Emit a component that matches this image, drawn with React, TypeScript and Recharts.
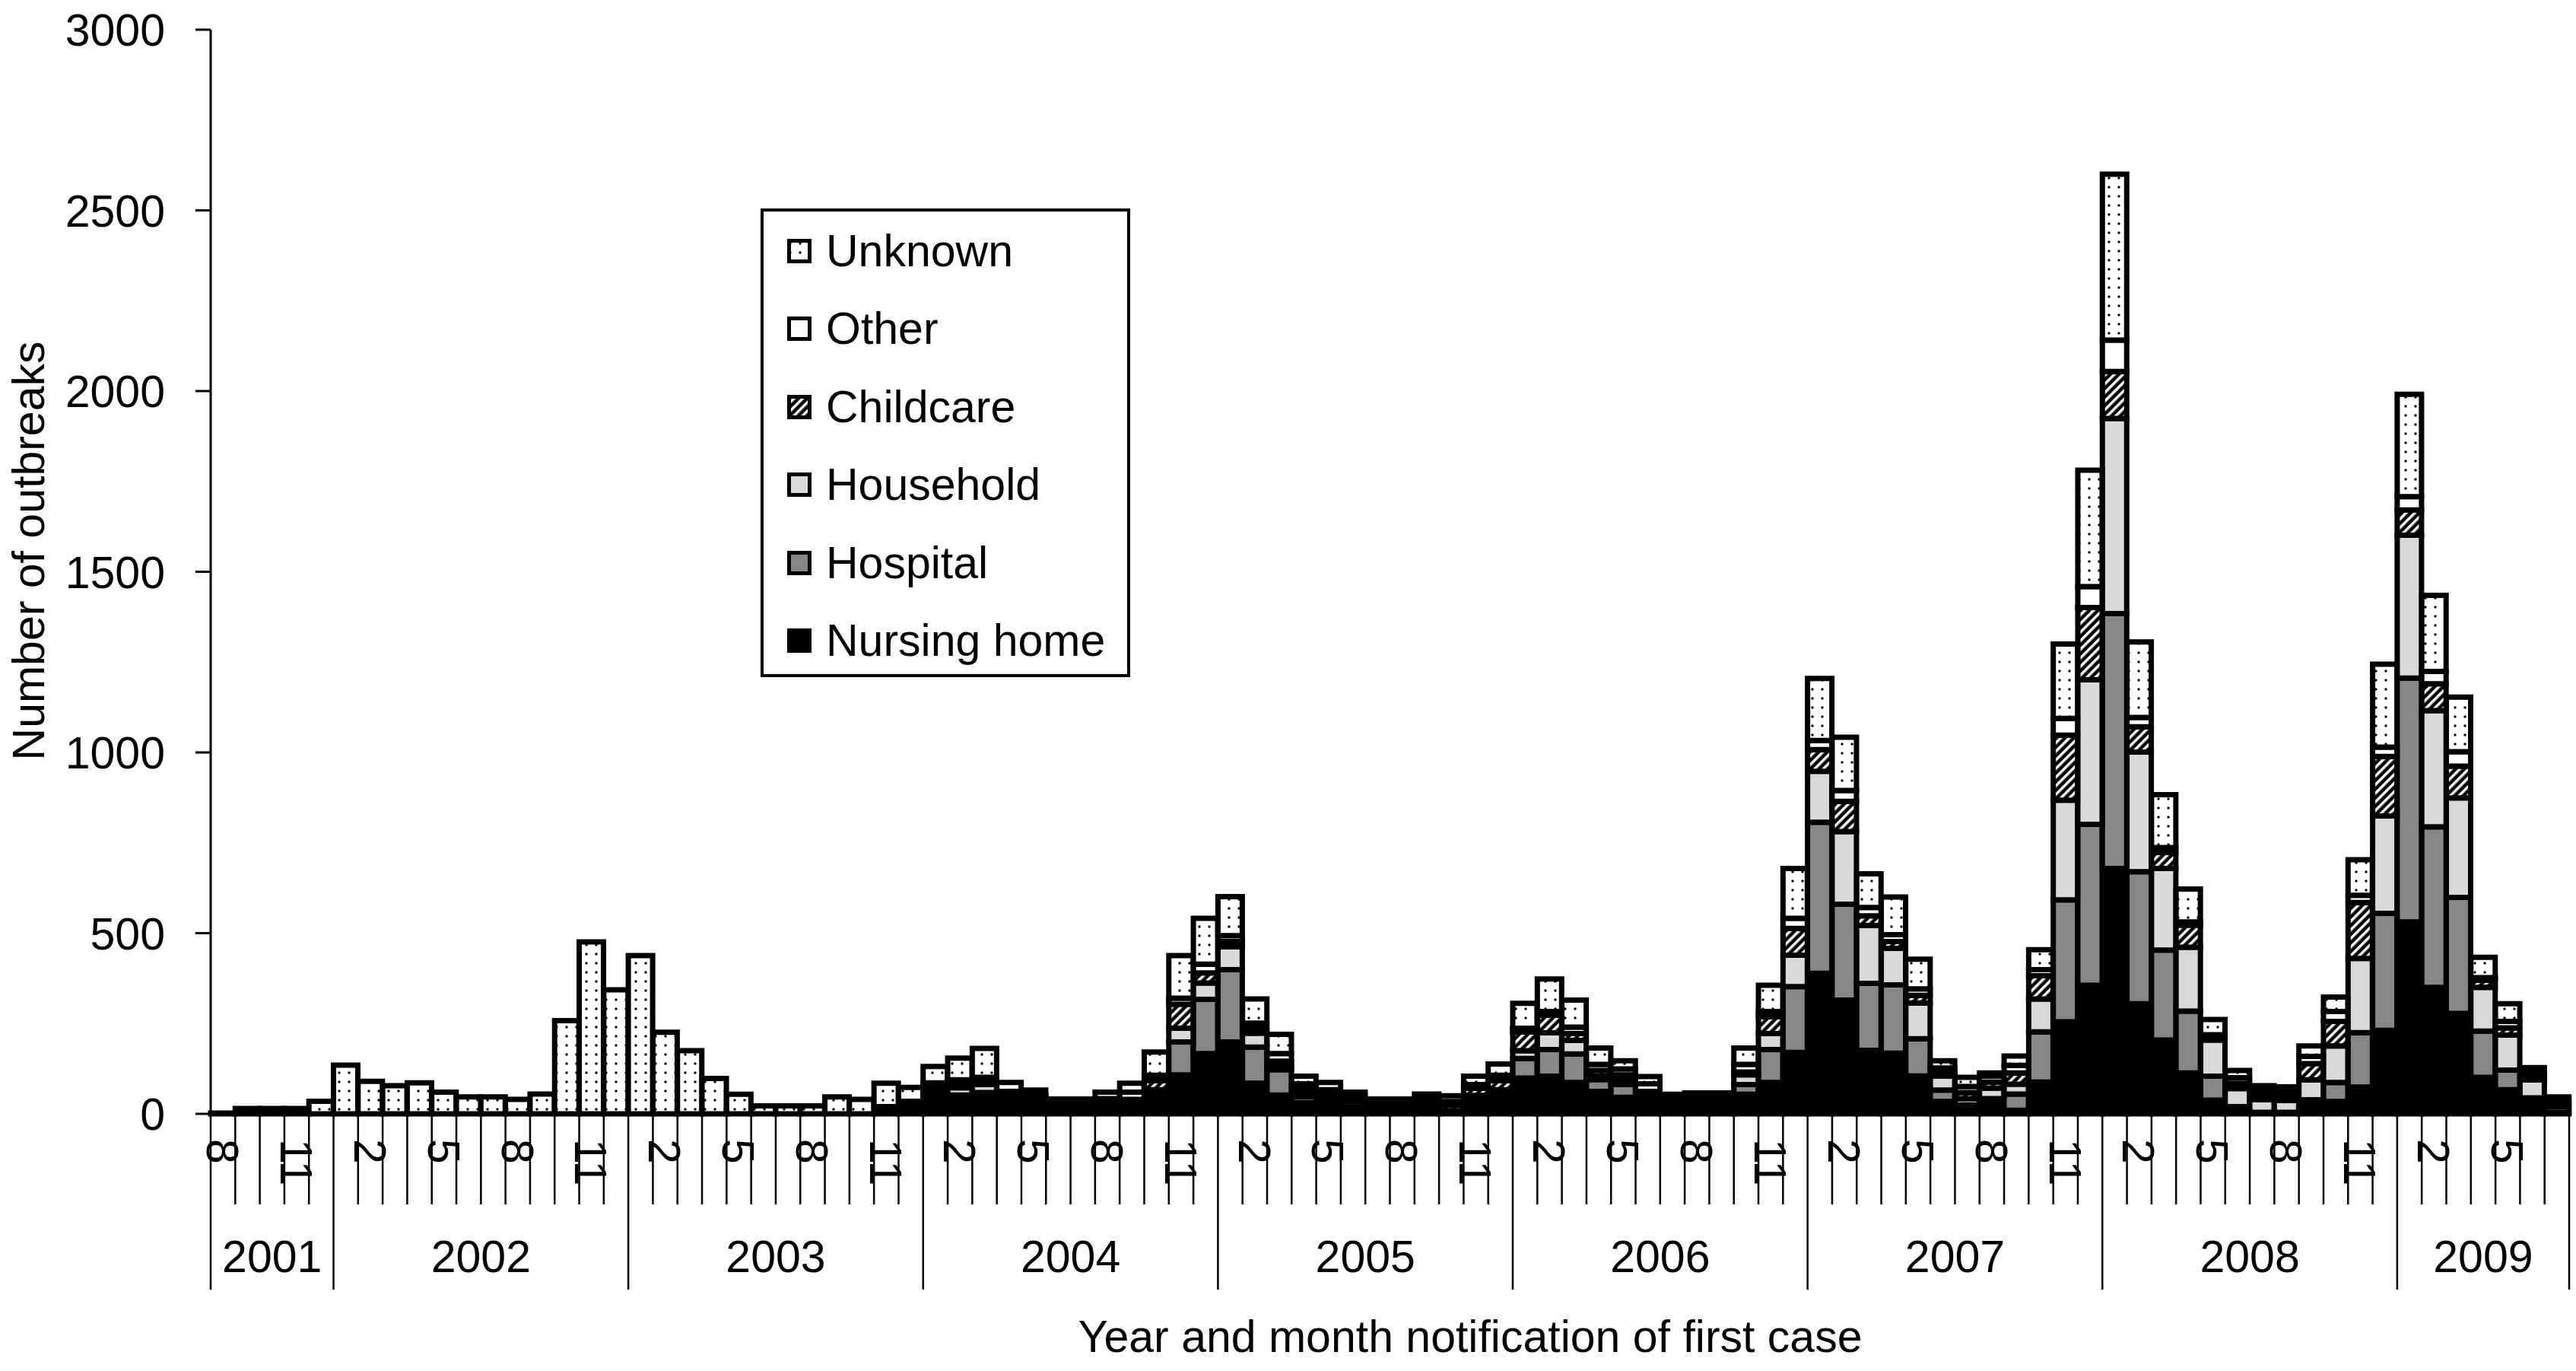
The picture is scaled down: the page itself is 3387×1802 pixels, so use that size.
import { Bar, BarChart, Legend, XAxis, YAxis } from "recharts";

const CHART_W = 3387;
const CHART_H = 1802;
const Y_AXIS_W = 200;
const X_AXIS_H = 338;
const MARGIN = { top: 39, right: 9, bottom: 0, left: 77 };
const PLOT_LEFT = MARGIN.left + Y_AXIS_W;
const PLOT_BOTTOM = CHART_H - MARGIN.bottom - X_AXIS_H;
const FONT = "'Liberation Sans', Arial, Helvetica, sans-serif";
const FONT_SIZE = 59;

// months Aug 2001 .. Jul 2009
const firstYear = 2001;
const firstMonth = 8;
const monthCount = 96;
const categories = Array.from({ length: monthCount }, (_, i) => {
  const t = firstMonth - 1 + i;
  return `${firstYear + Math.floor(t / 12)}-${(t % 12) + 1}`;
});
const labelledMonths = [2, 5, 8, 11];
const countTicks = [0, 500, 1000, 1500, 2000, 2500, 3000];

const nursingHome = [
  0, 0, 0, 0, 0,
  0, 0, 0, 0, 0, 0, 0, 0, 0, 0, 0, 0,
  0, 0, 0, 0, 0, 0, 0, 0, 0, 0, 10, 30,
  40, 38, 45, 50, 40, 8, 8, 8, 10, 40, 108, 167,
  199, 85, 52, 31, 30, 8, 25, 5, 5, 3, 35, 40,
  99, 104, 87, 62, 46, 29, 5, 5, 5, 54, 87, 170,
  389, 315, 176, 168, 105, 34, 13, 29, 10, 88, 255, 356,
  679, 305, 204, 113, 38, 8, 2, 2, 34, 34, 74, 231,
  531, 350, 278, 101, 67, 40, 3,
];
const hospital = [
  0, 0, 0, 0, 0,
  0, 0, 0, 0, 0, 0, 0, 0, 0, 0, 0, 0,
  0, 0, 0, 0, 0, 0, 0, 0, 0, 0, 0, 5,
  12, 14, 14, 5, 3, 3, 12, 12, 10, 12, 91, 150,
  200, 100, 70, 17, 10, 10, 3, 10, 10, 3, 8, 12,
  54, 74, 79, 33, 35, 12, 12, 12, 12, 27, 91, 182,
  418, 265, 185, 189, 103, 32, 12, 13, 45, 139, 337, 445,
  705, 365, 249, 171, 66, 12, 2, 2, 5, 53, 151, 324,
  675, 444, 321, 128, 54, 4, 2,
];
const household = [
  0, 0, 0, 0, 0,
  0, 0, 0, 0, 0, 0, 0, 0, 0, 0, 0, 0,
  0, 0, 0, 0, 0, 0, 0, 0, 0, 0, 0, 0,
  12, 20, 22, 3, 3, 15, 5, 5, 10, 15, 38, 45,
  63, 38, 10, 14, 10, 15, 3, 7, 8, 3, 8, 15,
  22, 46, 37, 9, 12, 9, 8, 9, 9, 27, 44, 87,
  141, 201, 160, 101, 99, 39, 17, 29, 27, 91, 276, 400,
  540, 331, 226, 177, 100, 50, 35, 33, 55, 101, 205, 269,
  395, 322, 275, 121, 97, 50, 15,
];
const childcare = [
  0, 0, 0, 0, 0,
  0, 0, 0, 0, 0, 0, 0, 0, 0, 0, 0, 0,
  0, 0, 0, 0, 0, 0, 0, 0, 0, 0, 10, 0,
  10, 10, 10, 2, 0, 3, 5, 5, 10, 25, 66, 28,
  15, 14, 14, 7, 7, 7, 2, 6, 8, 15, 20, 25,
  52, 49, 19, 16, 15, 12, 8, 9, 9, 8, 47, 74,
  60, 84, 27, 19, 21, 10, 17, 17, 31, 64, 180, 200,
  130, 70, 44, 61, 10, 15, 12, 12, 45, 68, 155, 165,
  70, 74, 88, 20, 20, 7, 8,
];
const other = [
  0, 0, 0, 0, 0,
  0, 0, 0, 0, 0, 0, 0, 0, 0, 0, 0, 0,
  0, 0, 0, 0, 0, 0, 0, 0, 0, 0, 0, 0,
  12, 12, 10, 2, 5, 4, 5, 12, 20, 15, 17, 24,
  16, 14, 21, 14, 10, 10, 3, 6, 10, 10, 10, 15,
  10, 10, 18, 17, 16, 21, 9, 10, 10, 21, 14, 28,
  25, 30, 23, 19, 18, 12, 17, 17, 21, 17, 46, 58,
  87, 26, 14, 9, 5, 15, 12, 12, 20, 27, 20, 26,
  37, 34, 40, 7, 18, 13, 8,
];
const unknown = [
  2, 15, 15, 15, 35,
  135, 90, 78, 86, 60, 47, 47, 40, 55, 258, 476, 343,
  438, 226, 175, 98, 54, 22, 22, 22, 47, 40, 65, 38,
  45, 60, 80, 25, 15, 8, 6, 18, 25, 64, 118, 127,
  108, 67, 53, 21, 20, 10, 5, 7, 14, 16, 23, 31,
  69, 90, 75, 45, 23, 20, 12, 13, 13, 45, 73, 138,
  172, 147, 93, 104, 82, 20, 25, 8, 26, 55, 206, 322,
  459, 209, 146, 91, 42, 20, 15, 14, 29, 40, 98, 229,
  283, 211, 151, 56, 49, 14, 11,
];

// bottom to top
const series = [
  { key: "nursingHome", name: "Nursing home", fill: "#000000" },
  { key: "hospital", name: "Hospital", fill: "#878787" },
  { key: "household", name: "Household", fill: "#d9d9d9" },
  { key: "childcare", name: "Childcare", fill: "url(#hatch)" },
  { key: "other", name: "Other", fill: "#ffffff" },
  { key: "unknown", name: "Unknown", fill: "url(#dots)" },
];

const data = categories.map((key, i) => ({
  key,
  nursingHome: nursingHome[i],
  hospital: hospital[i],
  household: household[i],
  childcare: childcare[i],
  other: other[i],
  unknown: unknown[i],
}));

const BAND = (CHART_W - PLOT_LEFT - MARGIN.right) / monthCount;

const MonthTick = (props: any) => {
  const { x, payload } = props;
  const i = typeof payload.index === "number" ? payload.index : categories.indexOf(payload.value);
  const [year, month] = categories[i].split("-").map(Number);
  const half = BAND / 2;
  const yearStart = i === 0 || month === 1;
  const inYear = categories.filter((c) => c.startsWith(`${year}-`)).length;
  return (
    <g>
      <line x1={x - half} x2={x - half} y1={PLOT_BOTTOM} y2={PLOT_BOTTOM + (yearStart ? 231 : 119)} stroke="#000" strokeWidth={2.5} />
      {i === monthCount - 1 && (
        <line x1={x + half} x2={x + half} y1={PLOT_BOTTOM} y2={PLOT_BOTTOM + 231} stroke="#000" strokeWidth={2.5} />
      )}
      {labelledMonths.includes(month) && (
        <text transform={`translate(${x},${PLOT_BOTTOM + 33}) rotate(90)`} textAnchor="start" dy="0.36em" fontSize={FONT_SIZE} fontFamily={FONT} fill="#000">
          {month}
        </text>
      )}
      {yearStart && (
        <text x={x - half + (inYear * BAND) / 2} y={PLOT_BOTTOM + 208} textAnchor="middle" fontSize={FONT_SIZE} fontFamily={FONT} fill="#000">
          {year}
        </text>
      )}
    </g>
  );
};

const CountTick = (props: any) => (
  <text x={PLOT_LEFT - 60} y={props.y} dy="0.36em" textAnchor="end" fontSize={FONT_SIZE} fontFamily={FONT} fill="#000">
    {props.payload.value}
  </text>
);

const YTitle = () => (
  <text transform="translate(37,724) rotate(-90)" textAnchor="middle" dy="0.36em" fontSize={FONT_SIZE} fontFamily={FONT} fill="#000">
    Number of outbreaks
  </text>
);

const XTitle = () => (
  <text x={1933} y={1777} textAnchor="middle" fontSize={FONT_SIZE} fontFamily={FONT} fill="#000">
    Year and month notification of first case
  </text>
);

// legend lists the series top-down, as they sit in the stack
const LegendBox = () => (
  <div style={{ position: "relative", width: 486, height: 616, border: "4px solid #000", boxSizing: "border-box", background: "#fff", fontFamily: FONT, fontSize: FONT_SIZE }}>
    {[...series].reverse().map((s, k) => (
      <div key={s.key} style={{ position: "absolute", left: 31, top: 12 + k * 102.4, height: 80, display: "flex", alignItems: "center", whiteSpace: "nowrap" }}>
        <svg width={32} height={32} style={{ marginRight: 19 }}>
          <rect x={2.5} y={2.5} width={27} height={27} fill={s.fill} stroke="#000" strokeWidth={5} />
        </svg>
        <span>{s.name}</span>
      </div>
    ))}
  </div>
);

export default function App() {
  return (
    <div style={{ position: "absolute", left: 0, top: 0, width: CHART_W, height: CHART_H, background: "#fff" }}>
      <svg width={0} height={0} style={{ position: "absolute" }}>
        <defs>
          <pattern id="dots" width={13} height={12} patternUnits="userSpaceOnUse">
            <rect width={13} height={12} fill="#fff" />
            <circle cx={4} cy={6} r={1.7} fill="#000" />
          </pattern>
          <pattern id="hatch" width={8} height={8} patternUnits="userSpaceOnUse" patternTransform="rotate(45)">
            <rect width={8} height={8} fill="#000" />
            <rect width={3.5} height={8} fill="#fff" />
          </pattern>
        </defs>
      </svg>
      <BarChart width={CHART_W} height={CHART_H} data={data} margin={MARGIN} barCategoryGap={0} barGap={0}>
        <XAxis
          dataKey="key"
          interval={0}
          height={X_AXIS_H}
          tickLine={false}
          tickSize={0}
          axisLine={{ stroke: "#000", strokeWidth: 4 }}
          tick={<MonthTick />}
          label={<XTitle />}
        />
        <YAxis
          width={Y_AXIS_W}
          domain={[0, 3000]}
          ticks={countTicks}
          interval={0}
          tickSize={20}
          tickLine={{ stroke: "#000", strokeWidth: 3 }}
          axisLine={{ stroke: "#000", strokeWidth: 3 }}
          tick={<CountTick />}
          label={<YTitle />}
        />
        <Legend
          layout="vertical"
          align="center"
          verticalAlign="middle"
          content={<LegendBox />}
          wrapperStyle={{ left: 1000, top: 274, width: 486, height: 616 }}
        />
        {series.map((s) => (
          <Bar
            key={s.key}
            dataKey={s.key}
            name={s.name}
            stackId="a"
            fill={s.fill}
            stroke="#000"
            strokeWidth={7}
            legendType="square"
            isAnimationActive={false}
          />
        ))}
      </BarChart>
    </div>
  );
}
